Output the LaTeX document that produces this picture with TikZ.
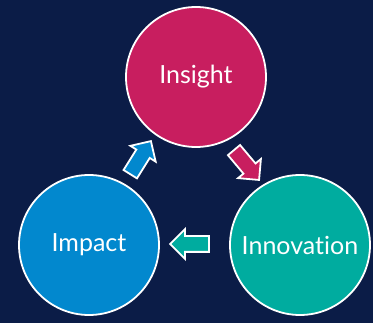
\documentclass[tikz,border=0pt]{standalone}
\usepackage{fontspec}
\setmainfont{Lato}[Ligatures={NoCommon,NoRare}]
\usetikzlibrary{calc,shapes.arrows}
\definecolor{fond}{HTML}{0B1C47}
\definecolor{rose}{HTML}{C81E5F}
\definecolor{bleu}{HTML}{0288CE}
\definecolor{vert}{HTML}{00AC9F}

\begin{document}
\begin{tikzpicture}[x=1pt,y=1pt,
    etape/.style={circle, draw=white, line width=1.8pt, minimum size=140pt,
      text=white, font=\fontsize{25}{30}\selectfont},
    fleche/.style={single arrow, draw=white, line width=1.8pt, inner sep=7pt,
      minimum height=39pt, single arrow head extend=7pt}]
    % Fond
    \fill[fond] (0,0) rectangle (373,-323);
    \useasboundingbox (0,0) rectangle (373,-323);

    % Cercles
    \node[etape, fill=rose] (insight) at (196,-77) {Insight};
    \node[etape, fill=vert] (innovation) at (300,-245) {Innovation};
    \node[etape, fill=bleu] (impact) at (89,-245) {Impact};

    % Fleches
    \node[fleche, fill=bleu, rotate=58] (versinsight) at ($(impact)!0.5!(insight)+(-4,0)$) {};
    \node[fleche, fill=rose, rotate=-50] (versinnovation) at ($(insight)!0.5!(innovation)+(-4,-1)$) {};
    \node[fleche, fill=vert, rotate=180] (versimpact) at ($(innovation)!0.5!(impact)+(-1,1)$) {};
\end{tikzpicture}
\end{document}
